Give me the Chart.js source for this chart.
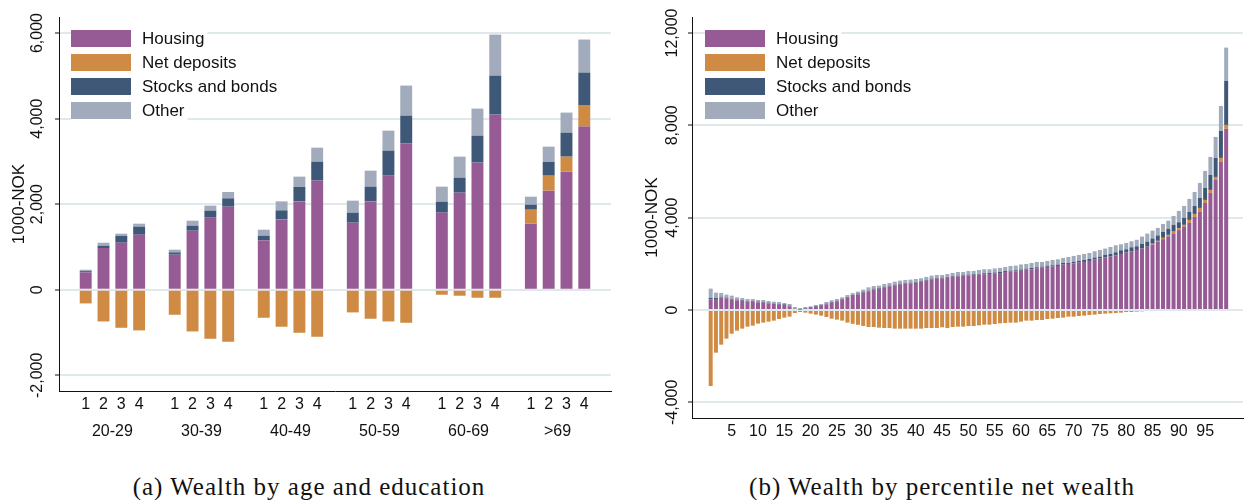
<!DOCTYPE html>
<html>
<head>
<meta charset="utf-8">
<script src="https://cdn.jsdelivr.net/npm/chart.js@4.4.1/dist/chart.umd.min.js"></script>
<style>
  body { margin: 0; background: #fff; }
  #wrap { position: relative; width: 1247px; height: 500px; background: #fff; }
  canvas { position: absolute; top: 0; }
  #left { left: 0; }
  #right { left: 624px; }
  .cap {
    position: absolute; top: 474px; line-height: 26px;
    font-family: "Liberation Serif", serif; font-size: 25px; letter-spacing: 1px;
    color: #111; transform: translateX(-50%); white-space: nowrap;
  }
</style>
</head>
<body>
<div id="wrap">
  <canvas id="left" width="624" height="470"></canvas>
  <canvas id="right" width="623" height="470"></canvas>
  <div class="cap" style="left:309px">(a) Wealth by age and education</div>
  <div class="cap" style="left:942px">(b) Wealth by percentile net wealth</div>
</div>
<script>
// Series names and colours
const seriesNames = ['Housing', 'Net deposits', 'Stocks and bonds', 'Other'];
const seriesColors = ['#965a94', '#cf8b43', '#3f5878', '#a1abbb'];

// Panel (a): age groups x education level (1000 NOK)
const ageGroups = ['20-29', '30-39', '40-49', '50-59', '60-69', '>69'];
const eduLevels = ['1', '2', '3', '4'];
const housingAge  = [[405, 975, 1099, 1286], [819, 1380, 1684, 1941], [1153, 1644, 2065, 2550],
                     [1567, 2065, 2666, 3415], [1801, 2269, 2971, 4093], [1544, 2316, 2760, 3813]];
const depositsAge = [[-320, -741, -889, -951], [-585, -975, -1146, -1216], [-655, -865, -1006, -1099],
                     [-530, -678, -741, -772], [-117, -140, -187, -187], [327, 350, 351, 491]];
const stocksAge   = [[30, 54, 157, 188], [54, 117, 164, 195], [110, 211, 337, 444],
                     [234, 344, 585, 655], [257, 351, 631, 912], [117, 320, 561, 772]];
const otherAge    = [[33, 70, 54, 70], [63, 117, 117, 149], [140, 210, 241, 327],
                     [281, 374, 468, 702], [351, 491, 632, 959], [187, 359, 468, 772]];
const ageTicks = [-2000, 0, 2000, 4000, 6000];

// Panel (b): percentiles of net wealth (1000 NOK)
const percentiles = Array.from({ length: 99 }, (_, i) => i + 1);
const housingPct = [462, 477, 549, 491, 448, 419, 390, 376, 361, 332,
  318, 289, 275, 231, 217, 159, 43, 20, 43, 87,
  130, 188, 246, 318, 376, 433, 535, 614, 679, 751,
  809, 896, 910, 968, 1012, 1055, 1098, 1142, 1156, 1170,
  1214, 1257, 1315, 1358, 1373, 1387, 1431, 1459, 1488, 1503,
  1517, 1532, 1550, 1561, 1575, 1600, 1647, 1662, 1676, 1700,
  1748, 1763, 1792, 1835, 1870, 1879, 1907, 1965, 1994, 2023,
  2052, 2081, 2124, 2182, 2225, 2283, 2312, 2370, 2428, 2485,
  2543, 2601, 2660, 2740, 2840, 2950, 3070, 3190, 3320, 3460,
  3600, 3771, 4031, 4247, 4637, 5071, 5634, 6414, 7845];
const depositsPct = [-3295, -1850, -1503, -1243, -1026, -896, -809, -722, -679, -592,
  -549, -506, -462, -390, -332, -289, -130, -87, -116, -159,
  -202, -246, -303, -376, -419, -462, -549, -600, -643, -694,
  -737, -737, -766, -780, -780, -809, -809, -809, -809, -809,
  -809, -780, -780, -780, -751, -780, -737, -722, -722, -694,
  -694, -665, -636, -636, -607, -578, -564, -549, -549, -506,
  -462, -462, -433, -433, -390, -376, -347, -332, -289, -289,
  -260, -246, -217, -202, -173, -159, -145, -130, -116, -87,
  -87, -72, -58, -43, 30, 45, 55, 65, 75, 85,
  87, 130, 130, 174, 130, 130, 130, 174, 173];
const stocksPct = [58, 43, 29, 44, 29, 29, 29, 14, 29, 29,
  29, 29, 14, 29, 29, 29, 15, 10, 29, 29,
  29, 29, 29, 29, 28, 29, 28, 36, 36, 44,
  29, 29, 29, 29, 43, 43, 44, 28, 29, 29,
  29, 29, 43, 29, 29, 29, 28, 29, 29, 29,
  29, 29, 40, 45, 50, 47, 44, 43, 44, 55,
  44, 58, 58, 44, 45, 57, 58, 72, 43, 58,
  72, 87, 87, 87, 87, 101, 116, 130, 159, 145,
  174, 159, 200, 220, 230, 235, 255, 265, 295, 255,
  303, 346, 346, 433, 520, 650, 824, 1170, 1907];
const otherPct = [405, 231, 159, 130, 144, 101, 101, 87, 87, 72,
  86, 72, 72, 87, 57, 72, 72, 57, 58, 43,
  58, 43, 72, 72, 73, 87, 87, 80, 80, 86,
  145, 115, 116, 130, 115, 130, 130, 131, 130, 145,
  130, 145, 130, 130, 115, 144, 145, 159, 130, 159,
  145, 173, 173, 159, 174, 174, 173, 202, 202, 217,
  202, 216, 231, 202, 209, 232, 231, 217, 260, 260,
  260, 260, 260, 274, 289, 275, 303, 303, 260, 274,
  260, 280, 319, 349, 339, 325, 347, 350, 385, 491,
  517, 564, 607, 650, 737, 780, 910, 1083, 1443];
const pctTicks = [-4000, 0, 4000, 8000, 12000];

const INK = '#111';
const GRID = '#dfe8ea';
const SANS = "'Liberation Sans', Arial, sans-serif";

Chart.defaults.font.family = SANS;
Chart.defaults.color = INK;
Chart.defaults.animation = false;

// left panel table: one empty slot at each end and between age groups
const ageLabels = [''];
const ageSource = [housingAge, depositsAge, stocksAge, otherAge];
const ageData = ageSource.map(() => [null]);
ageGroups.forEach((g, gi) => {
  eduLevels.forEach((e, ei) => {
    ageLabels.push(e);
    ageData.forEach((arr, si) => arr.push(ageSource[si][gi][ei]));
  });
  ageLabels.push('');
  ageData.forEach(arr => arr.push(null));
});

// rotated y labels, group labels under the bars, legend inside the plot
const decor = {
  id: 'decor',
  afterDraw(chart, args, opts) {
    const ctx = chart.ctx;
    const area = chart.chartArea;
    const ys = chart.scales.y;
    const xs = chart.scales.x;
    ctx.save();
    ctx.fillStyle = INK;
    ctx.font = '16px ' + SANS;
    ctx.textAlign = 'center';
    ctx.textBaseline = 'middle';
    ys.ticks.forEach(t => {
      ctx.save();
      ctx.translate(area.left - opts.tickGap, ys.getPixelForValue(t.value));
      ctx.rotate(-Math.PI / 2);
      ctx.fillText(t.value.toLocaleString('en-US'), 0, 0);
      ctx.restore();
    });

    if (opts.groups) {
      const n = opts.groupSize + 1;
      opts.groups.forEach((g, gi) => {
        const i2 = 1 + gi * n + 1;
        const x = (xs.getPixelForValue(i2) + xs.getPixelForValue(i2 + 1)) / 2;
        ctx.fillText(g, x, area.bottom + 41);
      });
    }

    // legend
    ctx.font = '17px ' + SANS;
    ctx.textAlign = 'left';
    const lx = area.left + opts.legendX;
    chart.data.datasets.forEach((ds, i) => {
      const top = area.top + 13 + i * 24;
      const w = ctx.measureText(ds.label).width;
      ctx.fillStyle = '#fff';
      ctx.fillRect(lx, top - 3.5, 71 + w + 3, 24);
      ctx.fillStyle = ds.backgroundColor;
      ctx.fillRect(lx, top, 60, 17);
      ctx.fillStyle = INK;
      ctx.fillText(ds.label, lx + 71, top + 9);
    });
    ctx.restore();
  }
};

function yScale(min, max, tickValues, width, titlePad) {
  return {
    stacked: true, min: min, max: max,
    ticks: { display: false },
    afterBuildTicks: s => { s.ticks = tickValues.map(v => ({ value: v })); },
    grid: { color: GRID, lineWidth: 2, tickLength: 4, tickColor: INK, tickWidth: 1 },
    border: { color: INK, width: 1 },
    title: { display: true, text: '1000-NOK', font: { size: 17 }, padding: { top: titlePad } },
    afterFit: s => { s.width = width; }
  };
}

function makeDatasets(arrays, barPct) {
  return arrays.map((d, i) => ({
    label: seriesNames[i],
    data: d,
    backgroundColor: seriesColors[i],
    borderWidth: 0,
    barPercentage: barPct,
    categoryPercentage: 1
  }));
}

new Chart(document.getElementById('left'), {
  type: 'bar',
  data: { labels: ageLabels, datasets: makeDatasets(ageData, 0.67) },
  options: {
    responsive: false,
    layout: { padding: { top: 17, right: 13, left: 0, bottom: 0 } },
    plugins: {
      legend: { display: false },
      tooltip: { enabled: false },
      decor: { tickGap: 21, legendX: 12, groups: ageGroups, groupSize: eduLevels.length }
    },
    scales: {
      x: {
        stacked: true,
        grid: { display: false, drawTicks: false },
        border: { color: INK, width: 1 },
        ticks: { autoSkip: false, maxRotation: 0, padding: 4, font: { size: 16 } },
        afterFit: s => { s.height = 79; }
      },
      y: yScale(-2367, 6375, ageTicks, 59, 9)
    }
  },
  plugins: [decor]
});

new Chart(document.getElementById('right'), {
  type: 'bar',
  data: { labels: percentiles, datasets: makeDatasets([housingPct, depositsPct, stocksPct, otherPct], 0.76) },
  options: {
    responsive: false,
    layout: { padding: { top: 17, right: 4, left: 0, bottom: 0 } },
    plugins: {
      legend: { display: false },
      tooltip: { enabled: false },
      decor: { tickGap: 19, legendX: 13 }
    },
    scales: {
      x: {
        type: 'linear', stacked: true, offset: false, min: -2.55, max: 102.2,
        grid: { display: false, drawTicks: false },
        border: { color: INK, width: 1 },
        ticks: {
          stepSize: 5, includeBounds: false, autoSkip: false, maxRotation: 0, padding: 4,
          font: { size: 16 },
          callback: v => (v >= 5 && v <= 95) ? String(v) : ''
        },
        afterFit: s => { s.height = 52; }
      },
      y: yScale(-4680, 12693, pctTicks, 68, 18)
    }
  },
  plugins: [decor]
});
</script>
</body>
</html>
